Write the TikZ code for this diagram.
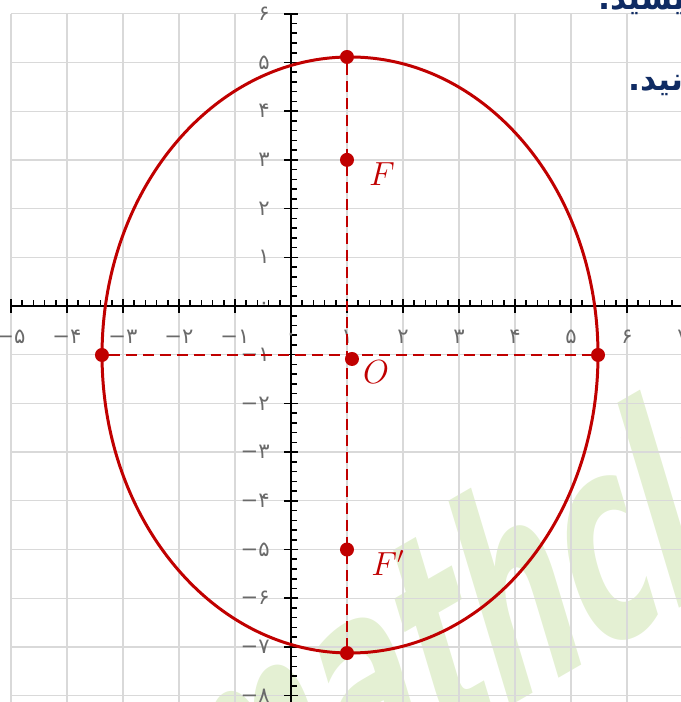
\RequirePackage{fix-cm}
\documentclass[tikz,border=0pt]{standalone}
\usepackage{fontspec}
\usepackage{xcolor}
\usepackage{tikz}
\usetikzlibrary{positioning, calc}
\TeXXeTstate=1
\newfontfamily\fafont[Script=Arabic]{DejaVu Sans}
\newfontfamily\numfont{DejaVu Sans}
\definecolor{curveRed}{HTML}{C00000}
\definecolor{gridGray}{HTML}{D9D9D9}
\definecolor{tickGray}{HTML}{6A6A6A}
\definecolor{titleBlue}{HTML}{0F2B63}
\definecolor{markGreen}{HTML}{E4F0D3}

\tikzset{
  gridline/.style={draw=gridGray, line width=0.75pt},
  axisline/.style={draw=black, line width=1.3pt},
  tickline/.style={draw=black, line width=0.9pt},
  ticklabel/.style={text=tickGray, font=\numfont\fontsize{12}{12}\selectfont, inner sep=0pt},
  ptdot/.style={circle, fill=curveRed, inner sep=0pt, minimum size=0.28cm},
  ptlabel/.style={text=curveRed, font=\fontsize{19}{19}\selectfont, inner sep=0pt},
  guide/.style={draw=curveRed, line width=1.1pt, dash pattern=on 6.2pt off 3.4pt},
  hinttext/.style={anchor=base west, inner sep=0pt, text=titleBlue, font=\fafont\bfseries\fontsize{18}{18}\selectfont},
}

\begin{document}
\begin{tikzpicture}[x=1.12cm, y=0.974cm]
    \clip (-5.196,-8.131) rectangle (6.964,6.283);

    % Watermark (under everything)
    \begin{scope}[shift={(-1.38,-11.72)}, cm={1.845,1.065,-1.152,3.84,(0,0)}]
        \node[anchor=base west, inner sep=0pt, text=markGreen, font=\numfont\bfseries\fontsize{40}{40}\selectfont, transform shape] (mark) at (0,0) {mathclass};
    \end{scope}

    % Grid and axes
    \draw[gridline, step=1] (-5,-8.2) grid (7.2,6);
    \draw[axisline] (-5,0) -- (7.2,0);
    \draw[axisline] (0,6) -- (0,-8.2);
    \foreach \k in {-5,...,7} \draw[tickline] (\k,0) ++(0,-0.14cm) -- ++(0,0.28cm);
    \foreach \k in {-25,...,35} \draw[tickline] (\k/5,0) -- ++(0,0.11cm);
    \foreach \k in {-8,...,6} \draw[tickline] (0,\k) ++(-0.13cm,0) -- ++(0.27cm,0);
    \foreach \k in {-41,...,30} \draw[tickline] (0,\k/5) -- ++(0.12cm,0);

    % Tick labels
    \foreach \k/\lab in {-5/−۵,-4/−۴,-3/−۳,-2/−۲,-1/−۱,0/۰,1/۱,2/۲,3/۳,4/۴,5/۵,6/۶,7/۷}
        \node[ticklabel] (xl\k) at (\k,-0.637) {\lab};
    \foreach \k/\lab in {-8/−۸,-7/−۷,-6/−۶,-5/−۵,-4/−۴,-3/−۳,-2/−۲,-1/−۱,0/۰,1/۱,2/۲,3/۳,4/۴,5/۵,6/۶}
        \node[ticklabel, anchor=east] (yl\k) at (-0.375,\k) {\lab};

    % Ellipse
    \coordinate (C) at (1.054,-1.006);
    \draw[curveRed, line width=1.7pt] (C) ellipse [x radius=4.428, y radius=6.119];

    % Points
    \node[ptdot] (T) at (1,5.113) {};
    \node[ptdot] (B) at (1,-7.125) {};
    \node[ptdot] (L) at (-3.375,-1.006) {};
    \node[ptdot] (R) at (5.482,-1.006) {};
    \node[ptdot] (F) at (1,3) {};
    \node[ptdot] (Fp) at (1,-5) {};
    \node[ptdot] (O) at (1.089,-1.088) {};

    % Dashed axes of the ellipse
    \draw[guide] (L) -- (R);
    \draw[guide] (T) -- (B);

    % Point names
    \node[ptlabel] (Flab) at (1.625,2.71) {$F$};
    \node[ptlabel] (Olab) at (1.518,-1.355) {$O$};
    \node[ptlabel] (Fplab) at (1.73,-5.28) {$F'$};

    % Cut-off text at the top
    \node[hinttext] (hintA) at (5.482,6.078) {\beginR یسید.\endR};
    \node[hinttext] (hintB) at (6.018,4.415) {\beginR نید.\endR};
\end{tikzpicture}
\end{document}
